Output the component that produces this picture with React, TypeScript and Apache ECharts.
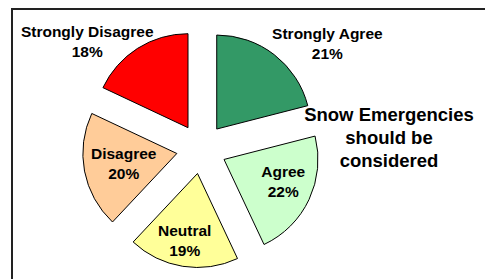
import React, { useEffect, useRef } from "react";
import * as echarts from "echarts";

const categories = ["Strongly Agree", "Agree", "Neutral", "Disagree", "Strongly Disagree"];
const percents = [21, 22, 19, 20, 18];
const colors = ["#339966", "#CCFFCC", "#FFFF99", "#FFCC99", "#FF0000"];
const titleLines = ["Snow Emergencies", "should be", "considered"];
// label nudges from the default inside position (pixels)
const labelNudges: [number, number][] = [
  [80, -46],
  [14, 1],
  [-5, 18],
  [-4, 1],
  [-74, -44],
];

export default function App() {
  const ref = useRef<HTMLDivElement>(null);
  useEffect(() => {
    if (!ref.current) return;
    const chart = echarts.init(ref.current, undefined, { renderer: "svg" });
    chart.setOption({
      animation: false,
      backgroundColor: "#ffffff",
      graphic: [
        {
          type: "rect",
          shape: { x: 12, y: 9, width: 520, height: 320 },
          style: { fill: "none", stroke: "#222222", lineWidth: 2 },
          silent: true,
        },
        {
          type: "text",
          x: 389,
          y: 137,
          style: {
            text: titleLines.join("\n"),
            font: "bold 18.5px Arial, 'Liberation Sans', sans-serif",
            fill: "#000000",
            align: "center",
            verticalAlign: "middle",
            lineHeight: 23,
          },
        },
      ],
      series: [
        {
          type: "pie",
          center: [201.4, 148.8],
          radius: 94,
          startAngle: 90,
          clockwise: true,
          selectedMode: "multiple",
          selectedOffset: 25,
          avoidLabelOverlap: false,
          emphasis: { disabled: true },
          itemStyle: { borderColor: "#000000", borderWidth: 1 },
          label: {
            show: true,
            position: "inside",
            formatter: (p: any) => `${p.name}\n${p.value}%`,
            fontFamily: "Arial, 'Liberation Sans', sans-serif",
            fontWeight: "bold",
            fontSize: 15.5,
            lineHeight: 20,
            color: "#000000",
            align: "center",
          },
          labelLine: { show: false },
          labelLayout: (params: any) => ({
            dx: labelNudges[params.dataIndex][0],
            dy: labelNudges[params.dataIndex][1],
          }),
          data: categories.map((c, i) => ({
            name: c,
            value: percents[i],
            selected: true,
            itemStyle: { color: colors[i] },
          })),
        },
      ],
    });
    return () => chart.dispose();
  }, []);
  return (
    <div
      ref={ref}
      style={{ position: "fixed", left: 0, top: 0, width: 485, height: 279 }}
    />
  );
}
